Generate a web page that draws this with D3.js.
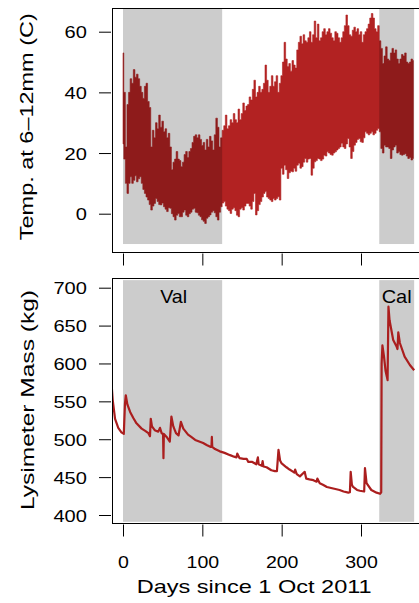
<!DOCTYPE html>
<html>
<head>
<meta charset="utf-8">
<script src="https://cdnjs.cloudflare.com/ajax/libs/d3/7.8.5/d3.min.js"></script>
<style>
	body { margin: 0; background: #fff; }
	text { font-family: "Liberation Sans", Arial, Helvetica, sans-serif; fill: #000; }
</style>
</head>
<body>
<div id="chart"></div>
<script>

//Temperature band at 6-12mm, daily max / min read every 2 days
var tempDay = [0,2,4,6,8,10,12,14,16,18,20,22,24,26,28,30,32,34,36,38,
	40,42,44,46,48,50,52,54,56,58,60,62,64,66,68,70,72,74,76,78,
	80,82,84,86,88,90,92,94,96,98,100,102,104,106,108,110,112,114,116,118,
	120,122,124,126,128,130,132,134,136,138,140,142,144,146,148,150,152,154,156,158,
	160,162,164,166,168,170,172,174,176,178,180,182,184,186,188,190,192,194,196,198,
	200,202,204,206,208,210,212,214,216,218,220,222,224,226,228,230,232,234,236,238,
	240,242,244,246,248,250,252,254,256,258,260,262,264,266,268,270,272,274,276,278,
	280,282,284,286,288,290,292,294,296,298,300,302,304,306,308,310,312,314,316,318,
	320,322,324,326,328,330,332,334,336,338,340,342,344,346,348,350,352,354,356,358,
	360,362,364,366];
var tempMax = [53,40,22,36,40,44.5,43,47.5,45,46,44.5,42,40,38,42,43,37,35,22,27.5,
	25,30,28,32.5,28.5,30.5,27,28,25,26.5,22,14.5,17,18,20.5,18,17.5,15.5,17,19.5,
	20.5,18.5,20.5,21.5,23.5,25.5,26,25,26,24.5,22.5,23.5,21,24.5,22,25.5,24,21,26,31.5,
	28.5,22,25,27.5,29,32.5,28,29,31,30,33,31,30,34.5,31,33,36.5,34,35.5,36,
	38.5,37.5,41,44,38.5,40,42,40,41,43,49,44,40,42,45.5,42,43.5,45.5,40,43,
	45.5,50,56.5,51,48.5,49.5,47,50.5,49,48,54,56.5,58.5,56,59,57,56.5,58,60,56.5,
	59,63.5,58,62.5,57,58,60,61,59,60,61,59.5,58,57,60,59.5,58,56.5,58,60,
	62,65.5,62,59,58.5,60.5,61.5,60,61,59,60,56.5,59,60,61,62.5,64.5,66,64.5,61,
	60,62,57,54.5,49.5,52,55,51,50.5,53,54.5,53,54,51,49.5,51,52.5,52,53,50,
	49.5,50,51,50.5];
var tempMin = [23,18,10,6.7,10,12.2,10,11,12.5,10.5,11.5,12.2,10,8,6.7,5.5,4.5,3,1.2,2.5,
	3.4,5,4,3,2.9,3.5,2.3,1.5,0.7,2,1.8,0,-1,-2.1,-0.5,0.1,-1,-1,0.5,1.2,
	-0.5,-1,0,0.5,1.5,1.8,0.5,0.3,-0.5,-1,-2,-2.5,-3.2,-1.5,-1,-0.4,0.5,1,0.3,-1,
	-2.1,0.5,2.3,3.5,4,2.5,1.5,1,0.1,1.5,2,1,-0.5,-1,1.5,2,1.2,2.5,3.4,3.4,
	2.5,1.5,4,6.7,-0.4,1,3,4,5.5,6.7,7.3,5.5,5,4.5,4,5,4.5,5,5.6,4.5,
	15,13,16,14.5,11.6,13.5,14,13.8,15,14,16,16.6,15,15.5,17,18.2,17,18,18.2,12.7,
	15,17.1,17.5,18.2,18,17.5,18,19.3,19,20.4,20,19.5,19.3,20,20.4,21,21.5,22,23.2,22,
	21.5,23,24.8,22,18.2,20.5,22.6,23.5,24.5,24.8,23.7,23.5,25,27,26.5,26,26.5,27,26,26.5,
	27.5,28.1,27,21.5,20,22.6,22,22,21.5,18.2,21,22,22.6,20,20.4,19.5,19.3,19.5,19.8,19,
	18.2,18.5,17.7,18.2];

//Lysimeter mass
var massDay = [-14,-13,-10,-6,-2,1,2.5,3.5,5.5,9,13,17,23.5,28,32,34,35,36.5,40,44.5,46.6,48.7,50.5,51,51.5,55,59,61,63.4,66.8,70,73,76,82,86,91,96,
	101,106,110,111.5,112,112.5,116,122,128,135,140,143,144,147,152,156,158,163,168,170,171,175,176,177,181,184,187,191.5,194,196,198,200,206,210,
	214.6,216,217,219,223,229,231,235,240,244,245,248,252,257,261,265,269,273,278,284,286,287,288.5,290,295,298.6,304,305,307,313,319.6,324,325.5,
	326,327,329,331,333.5,334.6,336,340.6,345,346,347,349,355,361.6,367];
var mass = [567,552,527,515,509,507,547,558,546,536,528,521,514,511,508,504,527,517,512,510,515,508,507,475,507,503,497,530,517,508,505,523,514,506,503,499,497,
	495,492,490,490,503,490,487,484,482,479,477,476,481,475,474,474,470,470,467,476,467,465,471,464,463,461,459,458,458,486,472,468,463,460,
	457,456,460,454,451,457,448,447,446,444,448,442,440,437,436,435,434,433,431,429.5,430,457,440,437,433,432,431,462,442,433,429.5,428,430,
	600,624,609,590,578,675,657,631,622,619,641,627,609,598,591];

//Shaded periods: validation and calibration
var periodStart = [0, 323];
var periodEnd = [125, 367];
var periodLabel = ["Val", "Cal"];

var xTicks = [0, 100, 200, 300];
var tempTicks = [0, 20, 40, 60];
var massTicks = [400, 450, 500, 550, 600, 650, 700];

var width = 419, height = 603;
var boxLeft = 112, boxRight = 421;
var top1 = 8, bottom1 = 252, top2 = 278, bottom2 = 523;

var svg = d3.select("#chart").append("svg")
	.attr("width", width)
	.attr("height", height);

var x = d3.scaleLinear().domain([0, 300]).range([123, 361]);
var yT = d3.scaleLinear().domain([0, 60]).range([213.7, 31.7]);
var yB = d3.scaleLinear().domain([400, 700]).range([515, 287.7]);

//clip paths for both panels
var defs = svg.append("defs");
defs.append("clipPath").attr("id", "clip1").append("rect")
	.attr("x", boxLeft).attr("y", top1).attr("width", boxRight - boxLeft).attr("height", bottom1 - top1);
defs.append("clipPath").attr("id", "clip2").append("rect")
	.attr("x", boxLeft).attr("y", top2).attr("width", boxRight - boxLeft).attr("height", bottom2 - top2);

//Top panel: temperature band, then translucent gray on top
var p1 = svg.append("g").attr("clip-path", "url(#clip1)");
var band = d3.area()
	.curve(d3.curveStep)
	.x(function(d, i){ return x(tempDay[i]); })
	.y0(function(d, i){ return yT(tempMin[i]); })
	.y1(function(d, i){ return yT(tempMax[i]); });
p1.append("path")
	.attr("d", band(tempDay))
	.attr("fill", "#b22222")
	.attr("stroke", "#b22222")
	.attr("stroke-width", 0.6);
p1.selectAll("rect.shade").data(periodStart).enter().append("rect")
	.attr("class", "shade")
	.attr("x", function(d){ return x(d); })
	.attr("width", function(d, i){ return x(periodEnd[i]) - x(d); })
	.attr("y", yT(70))
	.attr("height", yT(-10) - yT(70))
	.attr("fill", "rgba(0,0,0,0.2)");

//Bottom panel: gray under the mass line
var p2 = svg.append("g").attr("clip-path", "url(#clip2)");
p2.selectAll("rect.shade").data(periodStart).enter().append("rect")
	.attr("class", "shade")
	.attr("x", function(d){ return x(d); })
	.attr("width", function(d, i){ return x(periodEnd[i]) - x(d); })
	.attr("y", yB(710))
	.attr("height", yB(391) - yB(710))
	.attr("fill", "#cccccc");
var massLine = d3.line()
	.x(function(d, i){ return x(massDay[i]); })
	.y(function(d, i){ return yB(mass[i]); });
p2.append("path")
	.attr("d", massLine(massDay))
	.attr("fill", "none")
	.attr("stroke", "#ab1e1e")
	.attr("stroke-width", 2.2)
	.attr("stroke-linejoin", "round");

svg.selectAll("text.period").data(periodLabel).enter().append("text")
	.attr("class", "period")
	.attr("x", function(d, i){ return i == 0 ? 173.7 : 396.7; })
	.attr("y", 302.7)
	.attr("text-anchor", "middle")
	.attr("font-size", 19)
	.attr("textLength", function(d, i){ return i == 0 ? 27 : 30; })
	.attr("lengthAdjust", "spacingAndGlyphs")
	.text(function(d){ return d; });

//Boxes
[[top1, bottom1], [top2, bottom2]].forEach(function(b){
	svg.append("rect")
		.attr("x", boxLeft + 0.5).attr("y", b[0] + 0.5)
		.attr("width", boxRight - boxLeft).attr("height", b[1] - b[0])
		.attr("fill", "none").attr("stroke", "#000").attr("stroke-width", 1);
});

//Axes
function styleAxis(g){
	g.select(".domain").remove();
	g.selectAll("line").attr("stroke", "#000");
	g.selectAll("text").attr("font-size", 17).attr("font-family", null).attr("fill", "#000");
}

svg.append("g").attr("transform", "translate(0," + (bottom1 + 1.5) + ")")
	.call(d3.axisBottom(x).tickValues(xTicks).tickSize(12).tickFormat(""))
	.call(styleAxis);

var xb = svg.append("g").attr("transform", "translate(0," + (bottom2 + 1.5) + ")")
	.call(d3.axisBottom(x).tickValues(xTicks).tickSize(12).tickFormat(d3.format("d")))
	.call(styleAxis);
xb.selectAll("text").attr("y", 44).attr("dy", 0).attr("transform", "scale(1.15,1)");

var yl1 = svg.append("g").attr("transform", "translate(111,0)")
	.call(d3.axisLeft(yT).tickValues(tempTicks).tickSize(12))
	.call(styleAxis);
yl1.selectAll("text").attr("x", -20.5).attr("dy", "0.36em").attr("transform", "scale(1.18,1)");

var yl2 = svg.append("g").attr("transform", "translate(111,0)")
	.call(d3.axisLeft(yB).tickValues(massTicks).tickSize(12))
	.call(styleAxis);
yl2.selectAll("text").attr("x", -20.5).attr("dy", "0.36em").attr("transform", "scale(1.18,1)");

//Axis titles
svg.append("text")
	.attr("transform", "translate(33,126.7) rotate(-90)")
	.attr("text-anchor", "middle")
	.attr("font-size", 19)
	.attr("textLength", 227)
	.attr("lengthAdjust", "spacingAndGlyphs")
	.text("Temp. at 6\u201312mm (C)");

svg.append("text")
	.attr("transform", "translate(34,400) rotate(-90)")
	.attr("text-anchor", "middle")
	.attr("font-size", 19)
	.attr("textLength", 220)
	.attr("lengthAdjust", "spacingAndGlyphs")
	.text("Lysimeter Mass (kg)");

svg.append("text")
	.attr("x", 254.2)
	.attr("y", 593.3)
	.attr("text-anchor", "middle")
	.attr("font-size", 19)
	.attr("textLength", 235)
	.attr("lengthAdjust", "spacingAndGlyphs")
	.text("Days since 1 Oct 2011");

</script>
</body>
</html>
